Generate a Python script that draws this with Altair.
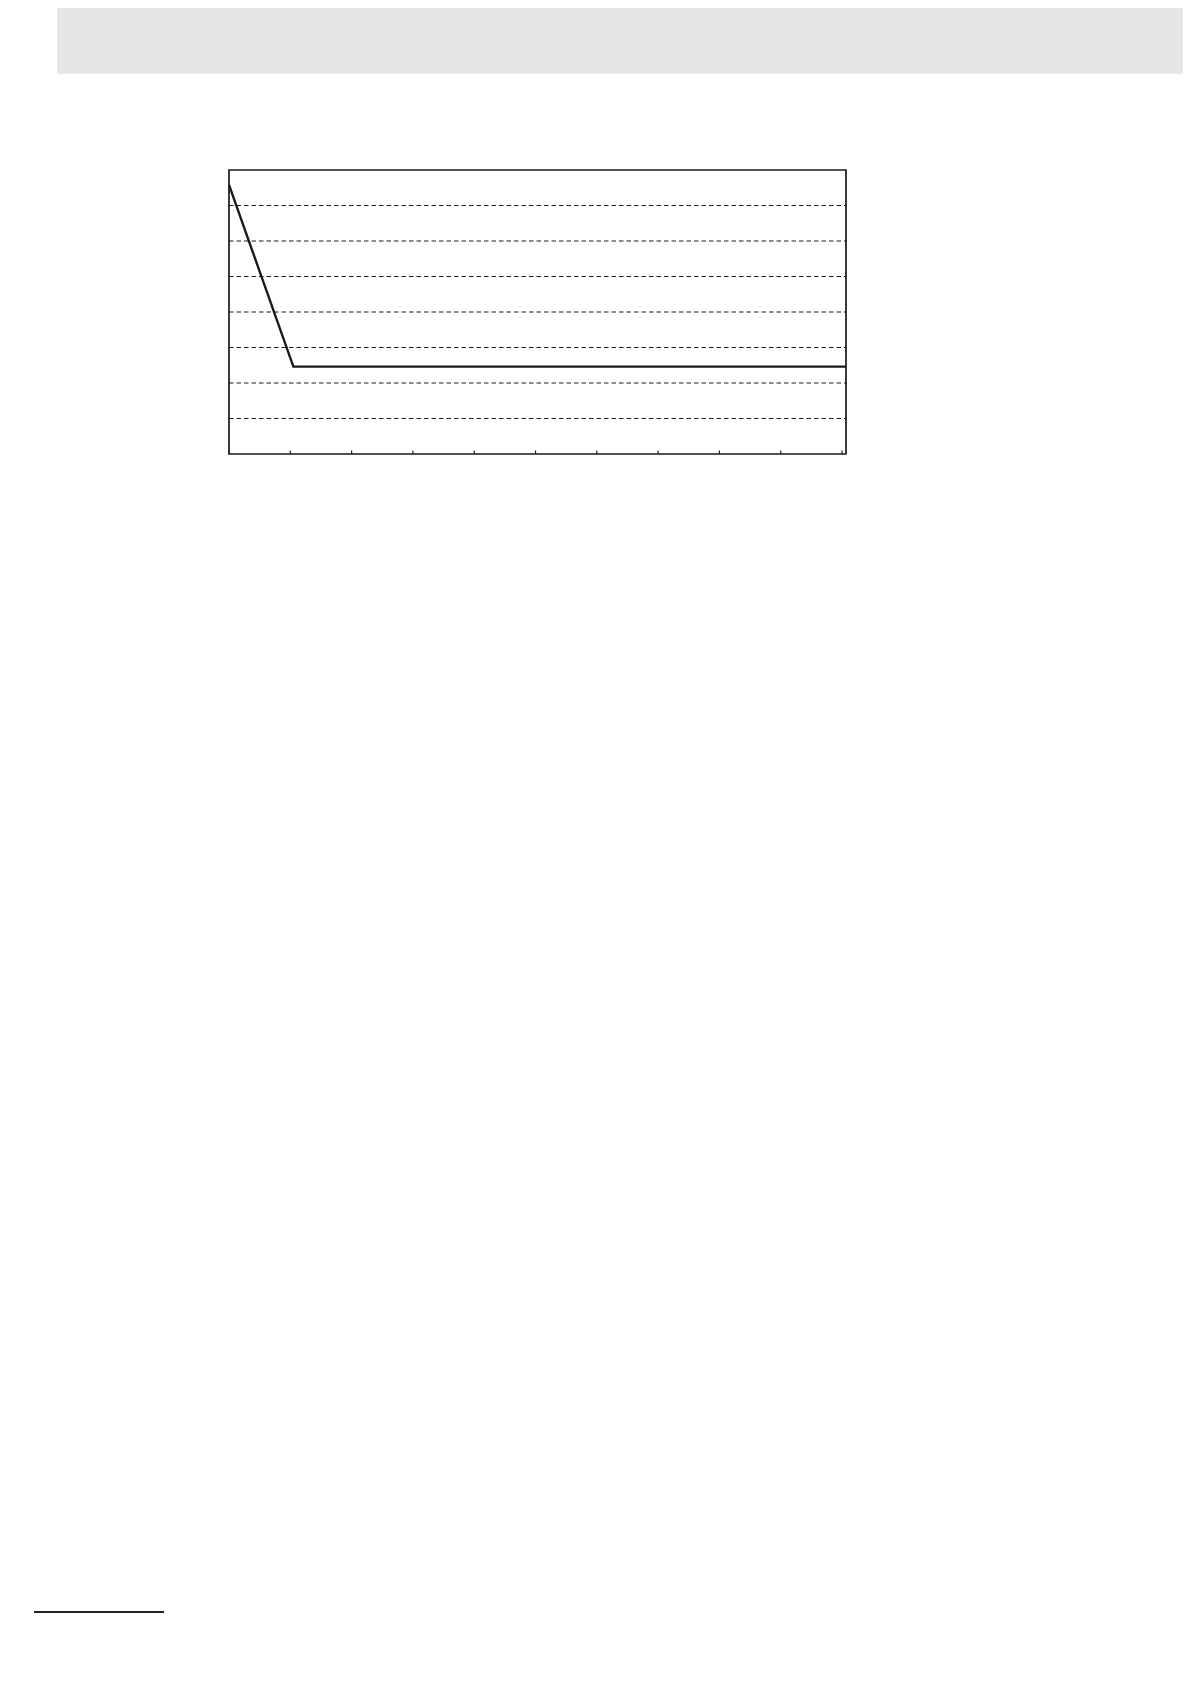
import altair as alt
import pandas as pd

# Series
x_vals = [0, 1.05, 10.065]
y_vals = [7.58, 2.46, 2.46]
x_tick_vals = [0, 1, 2, 3, 4, 5, 6, 7, 8, 9, 10]
y_grid_vals = [1, 2, 3, 4, 5, 6, 7]

X_DOMAIN = [0, 10.065]
Y_DOMAIN = [0, 8]

line_df = pd.DataFrame({"x": x_vals, "y": y_vals})
tick_df = pd.DataFrame({"t": x_tick_vals})
grid_df = pd.DataFrame({"g": y_grid_vals})

xs = alt.Scale(domain=X_DOMAIN, nice=False, zero=False)
ys = alt.Scale(domain=Y_DOMAIN, nice=False, zero=False)

W, H = 617, 284

grid = alt.Chart(grid_df).mark_rule(color="#1a1a1a", strokeWidth=1.2, strokeDash=[4.5, 3]).encode(
    y=alt.Y("g:Q", scale=ys, axis=None),
    x=alt.value(0),
    x2=alt.value(W),
)

ticks = alt.Chart(tick_df).mark_rule(color="#222222", strokeWidth=1.2).encode(
    x=alt.X("t:Q", scale=xs, axis=None),
    y=alt.value(H),
    y2=alt.value(H - 3.5),
)

line = alt.Chart(line_df).mark_line(color="#1a1a1a", strokeWidth=2.4).encode(
    x=alt.X("x:Q", scale=xs, axis=None),
    y=alt.Y("y:Q", scale=ys, axis=None),
)

# page decorations (header band and footer rule)
band_df = pd.DataFrame({"k": [0]})
header = alt.Chart(band_df).mark_rect(color="#e6e6e6").encode(
    x=alt.value(-172), x2=alt.value(954), y=alt.value(-162), y2=alt.value(-96.3)
)
footer = alt.Chart(band_df).mark_rule(color="#222222", strokeWidth=2.2).encode(
    x=alt.value(-195), x2=alt.value(-65), y=alt.value(1442)
)

chart = alt.layer(header, footer, grid, ticks, line).properties(
    width=W,
    height=H,
    padding={"left": 221, "top": 162, "right": 337, "bottom": 1222},
    autosize=alt.AutoSizeParams(type="none"),
    background="white",
).configure_view(stroke="#1a1a1a", strokeWidth=1.7)

chart.save("out.html", embed_options={"renderer": "svg", "actions": False})
